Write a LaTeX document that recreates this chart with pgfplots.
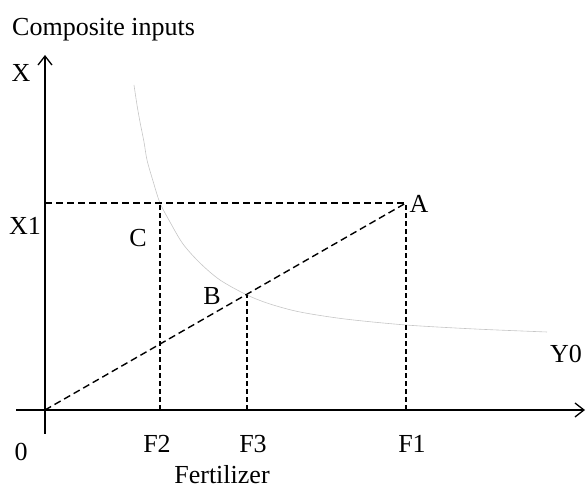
\documentclass[border=0pt]{standalone}
\usepackage{pgfplots}
\pgfplotsset{compat=1.18}
\usepackage{fontspec}
\setmainfont{Liberation Serif}
\usetikzlibrary{arrows.meta}
\begin{document}
\begin{tikzpicture}[font=\fontsize{26bp}{30bp}\selectfont]
\begin{axis}[
  width=586bp, height=489bp, scale only axis,
  xmin=-45, xmax=541, ymin=-79, ymax=410,
  axis line style={draw=none}, ticks=none,
  clip=false,
]
% isoquant Y0
\addplot[gray!45, line width=0.6bp, smooth] coordinates {
 (89,325) (92,305) (95,288) (99,268) (102,250) (108,229) (115,207)
 (125,188) (138,166) (155,147) (175,130) (202,115) (225,106) (255,98)
 (300,91) (361,85) (430,81) (502,78)};
% dashed construction lines
\addplot[black, line width=1.4bp, dash pattern=on 7bp off 4bp] coordinates {(0,207) (361,207)};
\addplot[black, line width=1.4bp, dash pattern=on 7bp off 4bp] coordinates {(0,0) (361,207)};
\addplot[black, line width=1.4bp, dash pattern=on 5bp off 3bp] coordinates {(115,0) (115,207)};
\addplot[black, line width=1.4bp, dash pattern=on 5bp off 3bp] coordinates {(202,0) (202,115)};
\addplot[black, line width=1.4bp, dash pattern=on 5bp off 3bp] coordinates {(361,0) (361,207)};
% axes
\addplot[black, line width=1.8bp, -{Straight Barb[length=9bp,width=14bp,line width=1.3bp]}] coordinates {(-29,0) (540,0)};
\addplot[black, line width=1.8bp, -{Straight Barb[length=9bp,width=14bp,line width=1.3bp]}] coordinates {(0,-24) (0,355)};
% labels
\node[anchor=base west, inner sep=0] at (axis cs:-33,374) {Composite inputs};
\node[anchor=base, inner sep=0] at (axis cs:-24,328) {X};
\node[anchor=base, inner sep=0] at (axis cs:-20,175) {X1};
\node[anchor=base, inner sep=0] at (axis cs:93,163) {C};
\node[anchor=base, inner sep=0] at (axis cs:167,105) {B};
\node[anchor=base, inner sep=0] at (axis cs:374,197) {A};
\node[anchor=base, inner sep=0] at (axis cs:521,47) {Y0};
\node[anchor=base, inner sep=0] at (axis cs:112,-43) {F2};
\node[anchor=base, inner sep=0] at (axis cs:208,-43) {F3};
\node[anchor=base, inner sep=0] at (axis cs:367,-43) {F1};
\node[anchor=base, inner sep=0] at (axis cs:177,-73) {Fertilizer};
\node[anchor=base, inner sep=0] at (axis cs:-24,-50) {0};
\end{axis}
\end{tikzpicture}
\end{document}
